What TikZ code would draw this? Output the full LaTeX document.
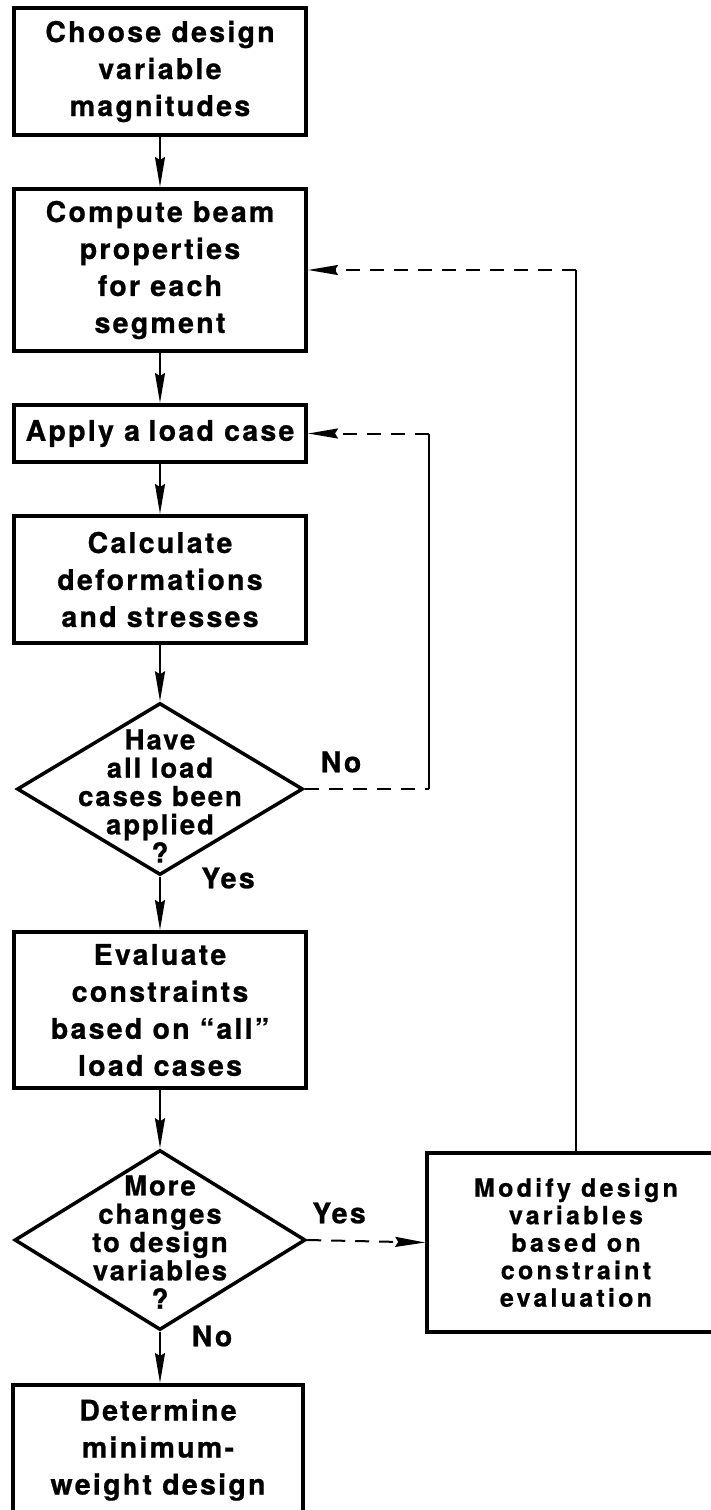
\documentclass[tikz,border=0pt]{standalone}
\usepackage{fontspec}
\setmainfont{TeX Gyre Heros}
\newfontfamily\boxfont[LetterSpace=8,FakeBold=0.8]{TeX Gyre Heros}
\newfontfamily\diafont[LetterSpace=7,FakeBold=0.8]{TeX Gyre Heros}
\newfontfamily\modfont[LetterSpace=13,FakeBold=0.8]{TeX Gyre Heros}
\usetikzlibrary{shapes.geometric,arrows.meta}

\begin{document}
\begin{tikzpicture}[x=1pt,y=-1pt,
  box/.style={draw,line width=4pt,minimum width=292pt,inner sep=0pt,align=center,
    font=\boxfont\bfseries\fontsize{28.5}{37}\selectfont},
  decision/.style={draw,diamond,line width=3.5pt,inner sep=0pt},
  dtext/.style={align=center,font=\diafont\bfseries\fontsize{27.5}{28.3}\selectfont},
  answer/.style={font=\boxfont\bfseries\fontsize{28.5}{28}\selectfont},
  flow/.style={line width=2pt,-{Stealth[length=30pt,width=10pt,inset=3pt]}},
  back/.style={line width=2pt,dash pattern=on 14pt off 10pt}]
        \useasboundingbox (0,0) rectangle (711,1510);

        \node[box,minimum height=127pt] (choose) at (160,71.5) {Choose design\\variable\\magnitudes};
        \node[box,minimum height=162pt] (props) at (160,270) {Compute beam\\properties\\for each\\segment};
        \node[box,minimum height=57pt] (apply) at (160,433.5) {Apply a\hspace{.3em}load case};
        \node[box,minimum height=127pt] (calc) at (160,579.5) {Calculate\\deformations\\and stresses};
        \node[decision,minimum width=286pt,minimum height=172pt] (allq) at (160,789) {};
        \node[dtext] (allqtext) at (160,796) {Have\\all load\\cases been\\applied\\?};
        \node[box,minimum height=156pt] (eval) at (160,1010) {Evaluate\\constraints\\based on “all”\\load cases};
        \node[decision,minimum width=291pt,minimum height=180pt] (moreq) at (160,1240) {};
        \node[dtext] (moreqtext) at (160,1242) {More\\changes\\to design\\variables\\?};
        \node[box,line width=3.5pt,minimum width=298pt,minimum height=179pt,font=\modfont\bfseries\fontsize{25}{27.5}\selectfont] (modify) at (576,1242.5) {Modify design\\variables\\based on\\constraint\\evaluation};
        \node[box,minimum width=290pt,minimum height=130pt] (determine) at (158,1450) {Determine\\minimum-\\weight design};

        \node[answer] (no1) at (341,762) {No};
        \node[answer] (yes1) at (228,878) {Yes};
        \node[answer] (yes2) at (339,1213) {Yes};
        \node[answer] (no2) at (212,1336) {No};

        \draw[flow] (choose) -- (props);
        \draw[flow] (props) -- (apply);
        \draw[flow] (apply) -- (calc);
        \draw[flow] (calc) -- (allq);
        \draw[flow] (allq) -- (eval);
        \draw[flow] (eval) -- (moreq);
        \draw[flow] (moreq.south) -- (moreq.south |- determine.north);

        \coordinate (c1) at (429,789);
        \draw[back] (allq.east) -- (c1);
        \draw[line width=2pt] (c1) -- (c1 |- apply.east);
        \draw[back,flow] (c1 |- apply.east) -- (apply.east);

        \draw[back,flow] (moreq.east) -- (modify.west);
        \coordinate (c2) at (modify.north |- props.east);
        \draw[line width=2pt] (modify.north) -- (c2);
        \draw[back,flow] (c2) -- (props.east);
      \end{tikzpicture}
\end{document}
